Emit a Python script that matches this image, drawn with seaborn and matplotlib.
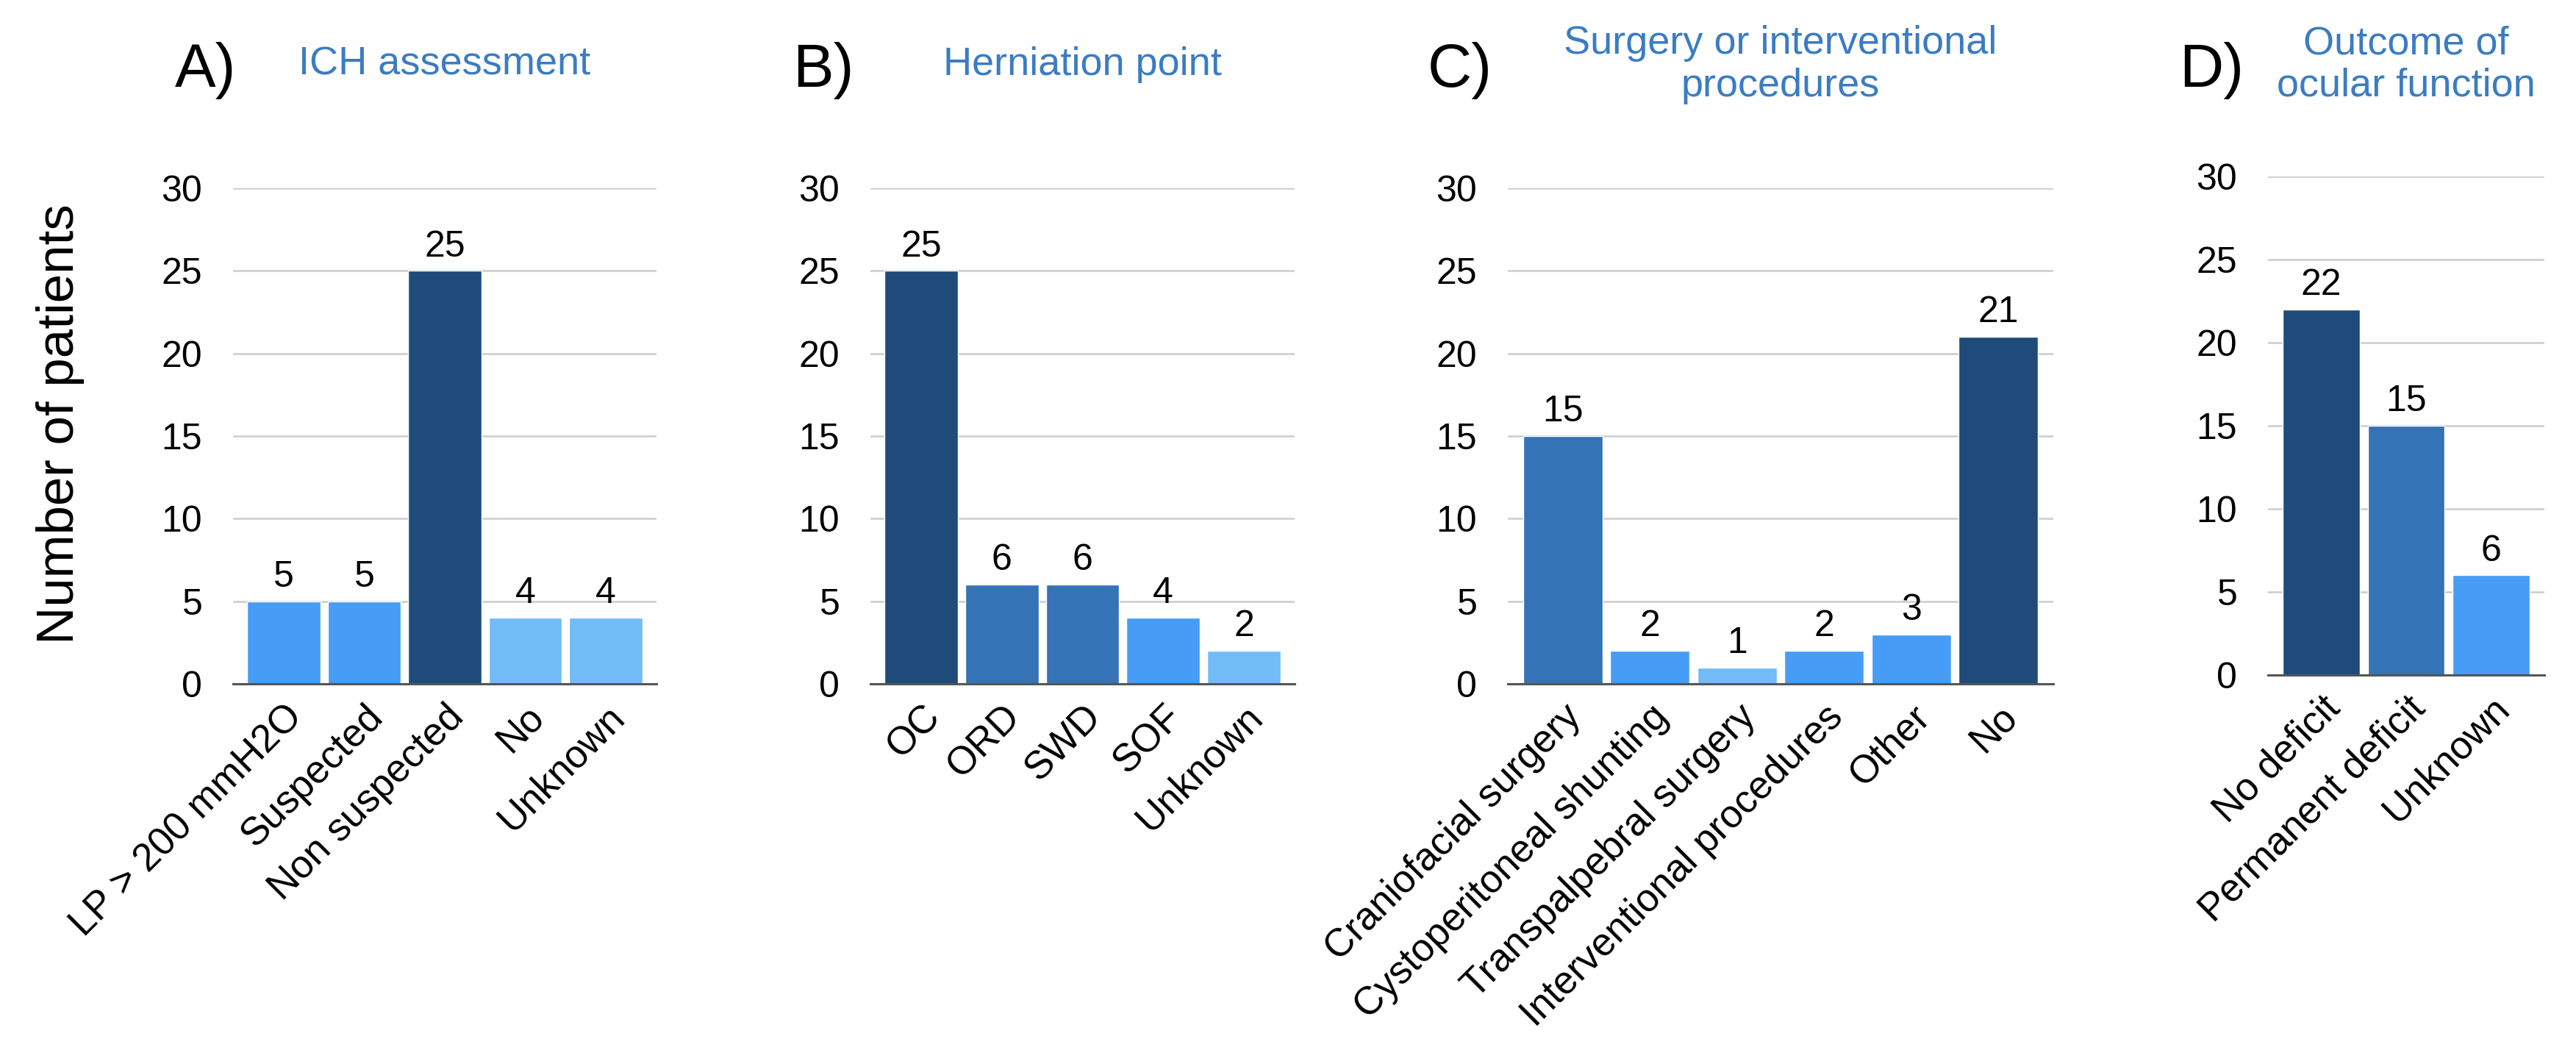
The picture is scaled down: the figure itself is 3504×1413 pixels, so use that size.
import matplotlib
matplotlib.use("Agg")
import matplotlib.pyplot as plt
import seaborn as sns
import pandas as pd

# data
ich_cats = ["LP > 200 mmH2O", "Suspected", "Non suspected", "No", "Unknown"]
ich_vals = [5, 5, 25, 4, 4]

hern_cats = ["OC", "ORD", "SWD", "SOF", "Unknown"]
hern_vals = [25, 6, 6, 4, 2]

surg_cats = ["Craniofacial surgery", "Cystoperitoneal shunting", "Transpalpebral surgery",
             "Interventional procedures", "Other", "No"]
surg_vals = [15, 2, 1, 2, 3, 21]

outc_cats = ["No deficit", "Permanent deficit", "Unknown"]
outc_vals = [22, 15, 6]

NAVY = "#1F4B7B"
MED = "#3473B5"
BRIGHT = "#479DF5"
LIGHT = "#72BCF7"
TITLE_C = "#3B7CC3"

ich_cols = [BRIGHT, BRIGHT, NAVY, LIGHT, LIGHT]
hern_cols = [NAVY, MED, MED, BRIGHT, LIGHT]
surg_cols = [MED, BRIGHT, LIGHT, BRIGHT, BRIGHT, NAVY]
outc_cols = [NAVY, MED, BRIGHT]

sns.set_theme(style="white")
plt.rcParams["font.family"] = ["Liberation Sans", "DejaVu Sans"]

W, H = 3505, 1413
fig = plt.figure(figsize=(W / 100, H / 100), dpi=100)


def px_axes(left, right, top, bottom):
    return fig.add_axes([left / W, 1 - bottom / H, (right - left) / W, (bottom - top) / H])


panels = [
    # cats, vals, colours, axes box (px), letter x, letter, title
    (ich_cats, ich_vals, ich_cols, (317, 893, 256, 930), 238, "A)", "ICH assessment"),
    (hern_cats, hern_vals, hern_cols, (1184, 1761, 256, 930), 1078, "B)", "Herniation point"),
    (surg_cats, surg_vals, surg_cols, (2051, 2793, 256, 930), 1942, "C)",
     "Surgery or interventional\nprocedures"),
    (outc_cats, outc_vals, outc_cols, (3085, 3461, 240, 918), 2964, "D)",
     "Outcome of\nocular function"),
]

for cats, vals, cols, box, lx, letter, title in panels:
    ax = px_axes(*box)
    df = pd.DataFrame({"cat": cats, "n": vals})
    sns.barplot(data=df, x="cat", y="n", hue="cat", palette=cols, width=0.91,
                legend=False, ax=ax, saturation=1, zorder=3)
    for c in ax.containers:
        ax.bar_label(c, padding=7, fontsize=36, color="black")
    ax.set_ylim(0, 30)
    ax.set_yticks(range(0, 31, 5))
    ax.set_xlim(-0.63, len(cats) - 0.37)
    ax.yaxis.grid(True, color="#cccccc", linewidth=1.8, zorder=0)
    ax.set_axisbelow(True)
    for s in ["top", "right", "left"]:
        ax.spines[s].set_visible(False)
    ax.spines["bottom"].set_color("#555555")
    ax.spines["bottom"].set_linewidth(2.2)
    ax.spines["bottom"].set_zorder(4)
    ax.tick_params(axis="y", length=0, pad=30, labelsize=36, labelcolor="black")
    ax.tick_params(axis="x", length=0, pad=14, labelsize=38, labelcolor="black")
    ax.set_xlabel("")
    ax.set_ylabel("")
    for t in ax.get_xticklabels():
        t.set_rotation(45)
        t.set_ha("right")
        t.set_va("top")
        t.set_rotation_mode("anchor")

    cx = (box[0] + box[1]) / 2
    fig.text(cx / W, 1 - 88 / H, title, ha="center", va="center", fontsize=39,
             color=TITLE_C, linespacing=1.2)
    fig.text(lx / W, 1 - 118 / H, letter, ha="left", va="baseline", fontsize=60,
             color="black")

fig.text(82 / W, 1 - 577 / H, "Number of patients", rotation=90, ha="center",
         va="center", fontsize=51, color="black")

fig.savefig("out.png", dpi=100, facecolor="white")
